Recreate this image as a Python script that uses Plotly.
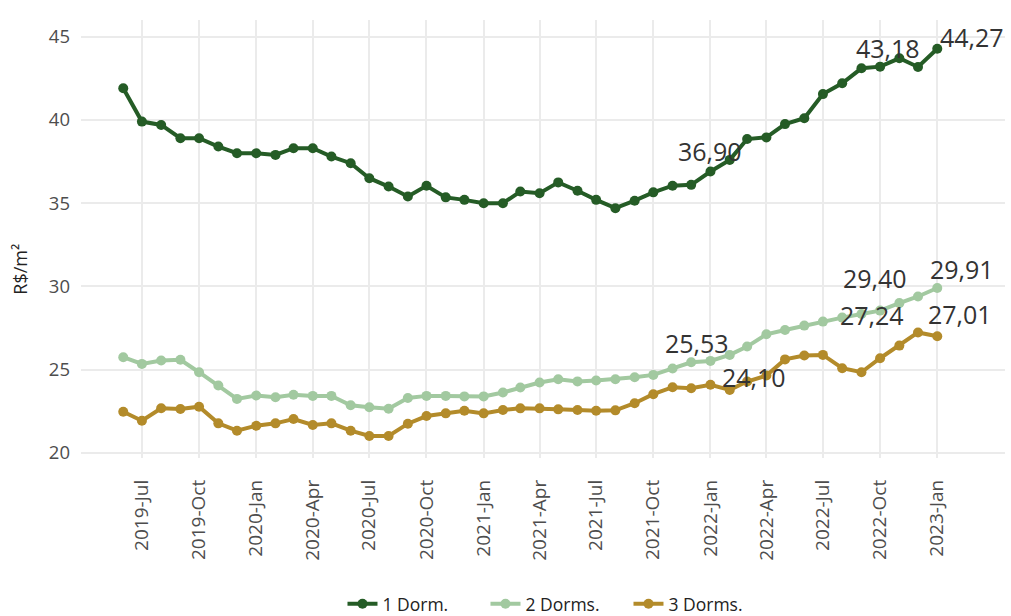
import pandas as pd
import plotly.graph_objects as go

months = pd.date_range("2019-06-01", "2023-01-01", freq="MS")

dorm1 = [41.9, 39.9, 39.7, 38.9, 38.9, 38.4, 38.0, 38.0, 37.9, 38.3, 38.3, 37.8,
         37.4, 36.5, 36.0, 35.4, 36.05, 35.35, 35.2, 35.0, 35.0, 35.7, 35.6, 36.25,
         35.75, 35.2, 34.7, 35.15, 35.65, 36.05, 36.1, 36.90, 37.6, 38.85, 38.95, 39.75,
         40.1, 41.55, 42.2, 43.1, 43.2, 43.7, 43.18, 44.27]
dorm2 = [25.75, 25.35, 25.55, 25.6, 24.85, 24.05, 23.25, 23.45, 23.35, 23.5, 23.43, 23.43,
         22.87, 22.75, 22.66, 23.3, 23.43, 23.43, 23.4, 23.4, 23.63, 23.93, 24.23, 24.43,
         24.3, 24.35, 24.43, 24.55, 24.69, 25.07, 25.45, 25.53, 25.89, 26.39, 27.13, 27.39,
         27.65, 27.89, 28.13, 28.35, 28.55, 29.0, 29.40, 29.91]
dorm3 = [22.48, 21.94, 22.69, 22.64, 22.78, 21.78, 21.34, 21.64, 21.78, 22.04, 21.68, 21.78,
         21.34, 21.02, 21.02, 21.76, 22.22, 22.38, 22.54, 22.38, 22.58, 22.68, 22.68, 22.62,
         22.58, 22.54, 22.56, 22.99, 23.53, 23.95, 23.89, 24.10, 23.79, 24.29, 24.65, 25.62,
         25.85, 25.89, 25.09, 24.85, 25.69, 26.45, 27.24, 27.01]

series_names = ["1 Dorm.", "2 Dorms.", "3 Dorms."]
series_values = [dorm1, dorm2, dorm3]
colors = ["#255C26", "#A2C9A0", "#B38B2A"]

tick_dates = pd.date_range("2019-07-01", "2023-01-01", freq="QS-JAN")
tick_labels = [d.strftime("%Y-%b") for d in tick_dates]

# labelled points: (series index, month, text, xshift, yshift)
labels = [
    (0, "2022-01-01", "36,90", 0, 21),
    (0, "2022-12-01", "43,18", -30, 19),
    (0, "2023-01-01", "44,27", 35, 12),
    (1, "2022-01-01", "25,53", -13, 18),
    (1, "2022-12-01", "29,40", -43, 18),
    (1, "2023-01-01", "29,91", 25, 19),
    (2, "2022-01-01", "24,10", 44, 8),
    (2, "2022-12-01", "27,24", -46, 17),
    (2, "2023-01-01", "27,01", 23, 22),
]

FONT = "Open Sans, Lato, sans-serif"

fig = go.Figure()
for name, vals, col in zip(series_names, series_values, colors):
    fig.add_trace(go.Scatter(
        x=months, y=vals, name=name, mode="lines+markers",
        line=dict(color=col, width=4),
        marker=dict(color=col, size=10),
    ))

for si, d, txt, xs, ys in labels:
    idx = list(months).index(pd.Timestamp(d))
    fig.add_annotation(
        x=months[idx], y=series_values[si][idx], text=txt,
        showarrow=False, xshift=xs, yshift=ys,
        font=dict(family=FONT, size=25, color="#333333"),
        xanchor="center", yanchor="middle",
    )

fig.add_annotation(
    x=-0.066, y=0.43, xref="paper", yref="paper", text="R$/m²",
    showarrow=False, textangle=-90,
    font=dict(family=FONT, size=18, color="#222222"),
    xanchor="center", yanchor="middle",
)

fig.update_layout(
    width=1011, height=616,
    margin=dict(l=81, r=6, t=20, b=158, autoexpand=False),
    plot_bgcolor="white", paper_bgcolor="white",
    font=dict(family=FONT, color="#4D4D4D"),
    showlegend=True,
    legend=dict(orientation="h", x=0.283, xanchor="left", y=-0.333, yanchor="middle",
                font=dict(family=FONT, size=17.5, color="#222222"),
                entrywidth=98, entrywidthmode="pixels",
                traceorder="normal"),
)
fig.update_xaxes(
    automargin=False,
    range=["2019-03-25", "2023-04-20"],
    tickvals=tick_dates, ticktext=tick_labels, tickangle=-90,
    tickfont=dict(family=FONT, size=19, color="#4D4D4D"),
    showgrid=True, gridcolor="#EBEBEB", gridwidth=1.5,
    zeroline=False, showline=False, ticks="", ticklabelstandoff=17,
)
fig.update_yaxes(
    automargin=False,
    range=[19.7, 46.0],
    tickvals=[20, 25, 30, 35, 40, 45],
    tickfont=dict(family=FONT, size=18.5, color="#4D4D4D"),
    showgrid=True, gridcolor="#EBEBEB", gridwidth=1.5,
    zeroline=False, showline=False, ticks="", ticklabelstandoff=10,
)

fig.write_html(
    "out.html",
    config={"displayModeBar": False},
    post_script="document.body.style.margin='0px';document.body.style.overflow='hidden';",
)
